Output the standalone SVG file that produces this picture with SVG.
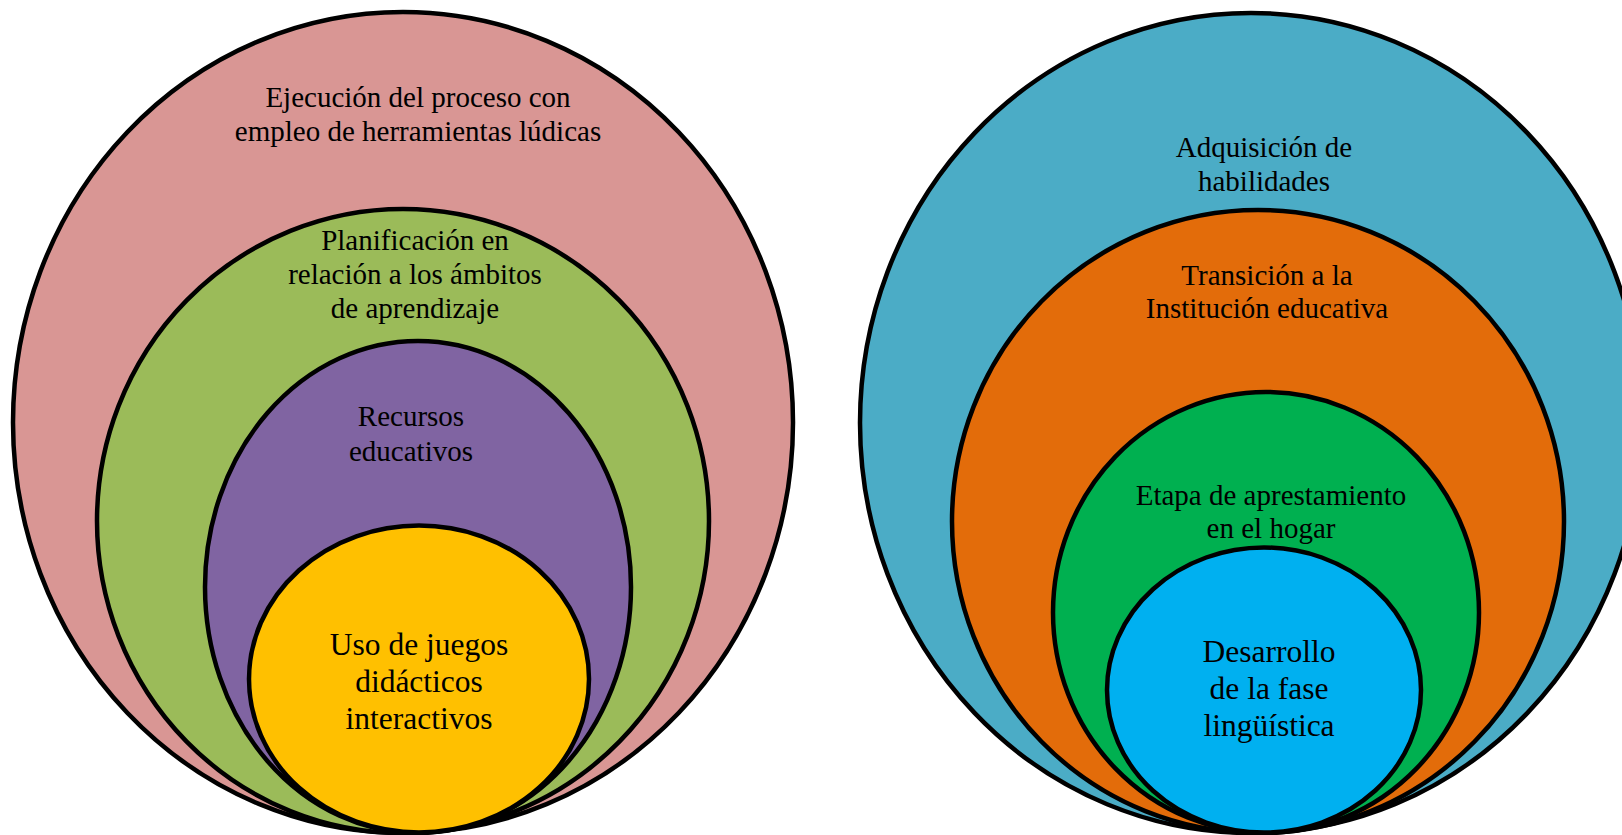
<svg xmlns="http://www.w3.org/2000/svg" width="1622" height="835" viewBox="0 0 1622 835">
<style>
.e{stroke:#000;stroke-width:4.5}
.t{font-family:"Liberation Serif","Times New Roman",serif;font-size:29px;fill:#000;text-anchor:middle}
.b{font-size:31.5px}
</style>
<rect width="1622" height="835" fill="#fff"/>
<g id="left">
<g id="n-ejecucion"><ellipse class="e" cx="403" cy="422.5" rx="390" ry="410.5" fill="#D99694"/>
<text class="t" x="418" y="106.5">Ejecución del proceso con</text>
<text class="t" x="418" y="141">empleo de herramientas lúdicas</text></g>
<g id="n-planificacion"><ellipse class="e" cx="403" cy="521" rx="306" ry="312" fill="#9BBB59"/>
<text class="t" x="415" y="250">Planificación en</text>
<text class="t" x="415" y="284">relación a los ámbitos</text>
<text class="t" x="415" y="318">de aprendizaje</text></g>
<g id="n-recursos"><ellipse class="e" cx="418" cy="587" rx="213" ry="246" fill="#8064A2"/>
<text class="t" x="411" y="426">Recursos</text>
<text class="t" x="411" y="460.5">educativos</text></g>
<g id="n-juegos"><ellipse class="e" cx="419" cy="679" rx="170" ry="153.5" fill="#FFC000"/>
<text class="t b" x="419" y="655">Uso de juegos</text>
<text class="t b" x="419" y="692">didácticos</text>
<text class="t b" x="419" y="728.5">interactivos</text></g>
</g>
<g id="right">
<g id="n-adquisicion"><ellipse class="e" cx="1251" cy="423" rx="391" ry="410" fill="#4BACC6"/>
<text class="t" x="1264" y="157">Adquisición de</text>
<text class="t" x="1264" y="190.5">habilidades</text></g>
<g id="n-transicion"><ellipse class="e" cx="1258" cy="521.5" rx="306" ry="311.5" fill="#E36C0A"/>
<text class="t" x="1267" y="284.5">Transición a la</text>
<text class="t" x="1267" y="318">Institución educativa</text></g>
<g id="n-etapa"><ellipse class="e" cx="1266" cy="612.5" rx="213" ry="220.5" fill="#00B050"/>
<text class="t" x="1271" y="504.5">Etapa de aprestamiento</text>
<text class="t" x="1271" y="537.5">en el hogar</text></g>
<g id="n-desarrollo"><ellipse class="e" cx="1264" cy="690" rx="157" ry="142.5" fill="#00B0F0"/>
<text class="t b" x="1269" y="662">Desarrollo</text>
<text class="t b" x="1269" y="699">de la fase</text>
<text class="t b" x="1269" y="736">lingüística</text></g>
</g>
<g id="connectors"/>
</svg>
